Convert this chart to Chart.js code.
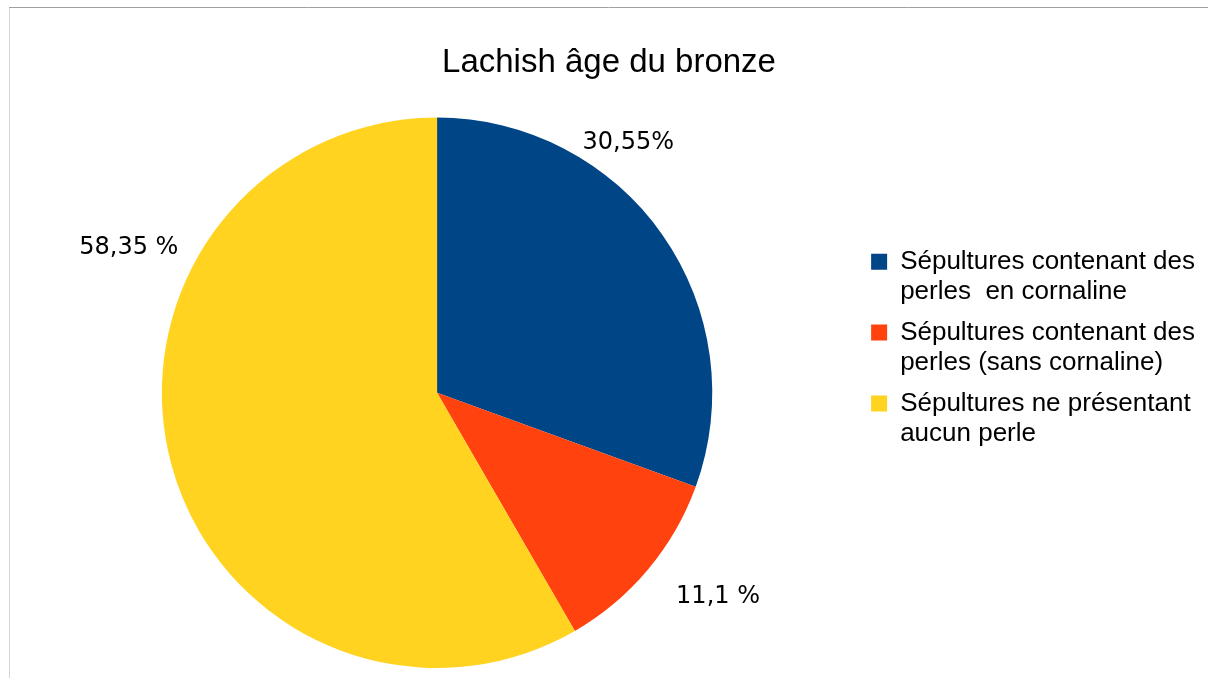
<!DOCTYPE html>
<html>
<head>
<meta charset="utf-8">
<script src="https://cdn.jsdelivr.net/npm/chart.js@4/dist/chart.umd.min.js"></script>
<style>
  body { margin: 0; background: #fff; }
  #wrap { width: 1208px; height: 678px; position: relative; }
</style>
</head>
<body>
<div id="wrap"><canvas id="chart"></canvas></div>
<script>
const categories = [
  ['Sépultures contenant des', 'perles  en cornaline'],
  ['Sépultures contenant des', 'perles (sans cornaline)'],
  ['Sépultures ne présentant', 'aucun perle']
]
const values = [30.55, 11.1, 58.35]
const valueLabels = ['30,55%', '11,1 %', '58,35 %']
const colors = ['#004586', '#ff420e', '#ffd320']

// where each value label sits: angle from top (clockwise, degrees) and distance / radius
const labelSpots = [
  { angle: 37.4, dist: 1.144 },
  { angle: 126, dist: 1.262 },
  { angle: 295.2, dist: 1.238 }
]

const frame = {
  id: 'frame',
  beforeDraw(chart) {
    const ctx = chart.ctx
    ctx.save()
    ctx.lineWidth = 1
    ctx.strokeStyle = '#d4d4d4'
    ctx.beginPath()
    ctx.moveTo(9.5, 8)
    ctx.lineTo(9.5, 678)
    ctx.stroke()
    ctx.strokeStyle = '#a0a0a0'
    ctx.beginPath()
    ctx.moveTo(9, 7.5)
    ctx.lineTo(1208, 7.5)
    ctx.stroke()
    ctx.restore()
  }
}

const valueText = {
  id: 'valueText',
  afterDatasetsDraw(chart) {
    const ctx = chart.ctx
    const arcs = chart.getDatasetMeta(0).data
    ctx.save()
    ctx.font = '24px "DejaVu Sans"'
    ctx.fillStyle = '#000'
    ctx.textAlign = 'center'
    ctx.textBaseline = 'middle'
    arcs.forEach((arc, i) => {
      const spot = labelSpots[i]
      const a = spot.angle * Math.PI / 180
      const r = arc.outerRadius * spot.dist
      ctx.fillText(valueLabels[i], arc.x + Math.sin(a) * r, arc.y - Math.cos(a) * r)
    })
    ctx.restore()
  }
}

const chart = new Chart(document.getElementById('chart').getContext('2d'), {
  type: 'pie',
  data: {
    labels: categories,
    datasets: [
      {
        data: values,
        backgroundColor: colors,
        borderWidth: 0,
        hoverOffset: 0
      }
    ]
  },
  options: {
    responsive: true,
    maintainAspectRatio: false,
    animation: false,
    layout: { padding: { left: 13, right: 3, top: 32, bottom: 10 } },
    plugins: {
      title: {
        display: true,
        text: 'Lachish âge du bronze',
        color: '#000',
        font: { family: '"Liberation Sans", Arial, sans-serif', size: 33, weight: 'normal', lineHeight: 1.2 },
        padding: { top: 11, bottom: 35 }
      },
      legend: {
        position: 'right',
        labels: {
          color: '#000',
          boxWidth: 16,
          boxHeight: 16,
          padding: 10,
          font: { family: '"Liberation Sans", Arial, sans-serif', size: 26, lineHeight: 1.17 }
        }
      },
      tooltip: { enabled: false }
    }
  },
  plugins: [frame, valueText]
})
</script>
</body>
</html>
